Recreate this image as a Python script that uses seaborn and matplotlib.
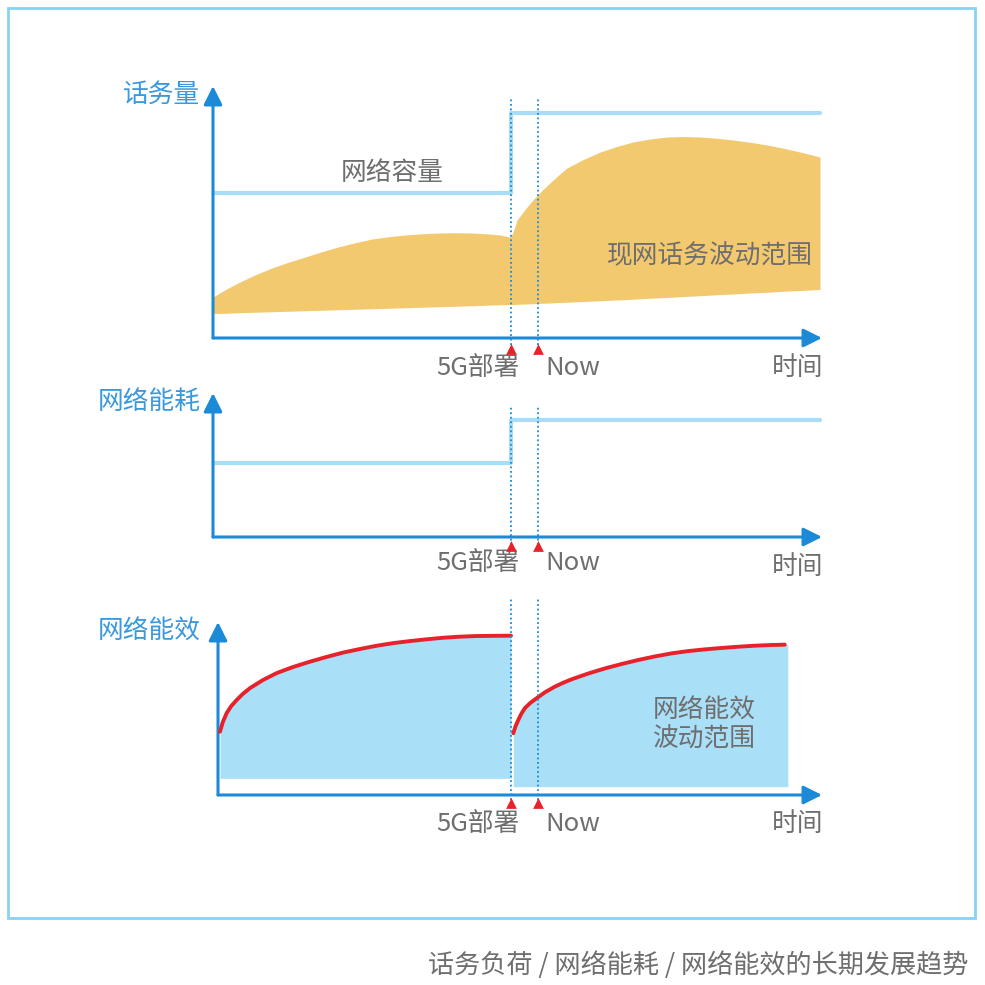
import numpy as np
import matplotlib.pyplot as plt
import seaborn as sns
from matplotlib.patches import Rectangle

sns.set_theme(style="white")
plt.rcParams['font.family'] = ['Noto Sans CJK SC', 'DejaVu Sans']

#
# Data (time in arbitrary units, 0..100)
#
t_5g = 49.1
t_now = 53.5

# panel 1: traffic volume
cap_t = [0, 49.1, 49.1, 100]
cap_v = [58, 58, 90, 90]
traffic_t = [0, 2.0, 4.1, 6.9, 9.7, 12.4, 15.2, 17.9, 20.6, 23.4, 26.2, 28.9, 31.6,
             34.4, 37.1, 39.9, 42.7, 45.0, 47.3, 48.9, 49.3, 49.7,
             50.1, 51.4, 52.7, 54.1, 55.5, 56.9, 58.3, 61.0, 63.8, 66.5, 69.2, 72.0,
             74.8, 77.5, 80.2, 83.0, 85.7, 88.5, 91.3, 94.0, 96.7, 100]
traffic_hi = [16.4, 19.3, 22, 25.2, 28, 30.3, 32.4, 34.5, 36.4, 38.1, 39.6, 40.5, 41.2,
              41.7, 42, 42.1, 42, 41.7, 41.2, 40.4, 41.6, 44.2,
              47.2, 51.4, 55.2, 58.8, 62, 65.1, 68, 71.4, 74.4, 76.6, 78.4, 79.6,
              80.4, 80.6, 80.4, 79.9, 79.2, 78.3, 77.2, 75.9, 74.4, 72.4]
traffic_lo = [9.8, 9.9, 10.1, 10.3, 10.5, 10.7, 10.9, 11.1, 11.3, 11.5, 11.7, 11.9, 12.1,
              12.3, 12.5, 12.7, 12.9, 13.1, 13.3, 13.4, 13.4, 13.4,
              13.5, 13.6, 13.7, 13.9, 14.0, 14.2, 14.3, 14.6, 14.9, 15.2, 15.5, 15.9,
              16.2, 16.6, 16.9, 17.3, 17.6, 18.0, 18.3, 18.7, 19.0, 19.4]

# panel 2: network energy consumption
energy_t = [0, 49.1, 49.1, 100]
energy_v = [51.4, 51.4, 81.3, 81.3]

# panel 3: network energy efficiency (two cycles)
eff1_t = [1.15, 1.6, 2.26, 3.0, 3.9, 4.9, 6.1, 8.2, 10.5, 13.2, 16.0, 18.7, 21.4,
          24.2, 27.0, 29.7, 32.5, 35.2, 37.9, 40.6, 43.4, 46.2, 49.1]
eff1_v = [36.6, 42.0, 47.4, 51.4, 54.9, 58.4, 61.8, 66.4, 70.5, 74.0, 77.1, 79.8, 82.3,
          84.4, 86.3, 87.8, 89.0, 90.0, 90.9, 91.5, 91.9, 92.0, 92.1]
eff1_lo = 9.65
eff2_t = [49.47, 49.85, 50.3, 50.8, 51.4, 52.3, 53.3, 54.7, 56.3, 57.7, 59.1, 61.8,
          64.6, 67.3, 70.0, 72.8, 75.6, 78.3, 81.1, 83.8, 86.5, 89.2, 92.0, 94.2]
eff2_v = [35.7, 39.8, 43.4, 47.0, 50.3, 53.3, 55.9, 59.4, 62.6, 64.9, 66.9, 70.2,
          73.2, 75.7, 78.0, 80.1, 81.9, 83.2, 84.2, 85.0, 85.7, 86.3, 86.7, 86.9]
eff2_lo = 4.8
eff2_end = 94.7

ylabels = ['话务量', '网络能耗', '网络能效']
ticklabels = ['5G部署', 'Now', '时间']

axis_blue = '#1c8ad6'
label_blue = '#3a98dc'
line_blue = '#a9dcf6'
fill_orange = '#f3c96f'
fill_blue = '#aadff8'
red = '#e8222b'
grey = '#6e6e6e'

W = H = 985.0
fig = plt.figure(figsize=(9.85, 9.85), dpi=100)


def add_panel(left, right, bottom, top, ymax):
    ax = fig.add_axes([left / W, 1 - bottom / H, (right - left) / W, (bottom - top) / H])
    ax.set_xlim((left - 213) / 6.07, (right - 213) / 6.07)
    ax.set_ylim(0, ymax)
    ax.axis('off')
    ax.patch.set_alpha(0)
    # axis arrows
    ax.annotate('', xy=(1, 0), xytext=(0, 0), xycoords='axes fraction',
                arrowprops=dict(arrowstyle='-|>', color=axis_blue, lw=2.2,
                                mutation_scale=28, shrinkA=0, shrinkB=0))
    ax.annotate('', xy=(0, 1), xytext=(0, 0), xycoords='axes fraction',
                arrowprops=dict(arrowstyle='-|>', color=axis_blue, lw=2.2,
                                mutation_scale=28, shrinkA=0, shrinkB=0))
    return ax


def markers(ax, ytop, ybot, ytri, ylab, ylab_t):
    for tx in (t_5g, t_now):
        ax.plot([tx, tx], [ybot, ytop], ls=(0, (1, 1.5)), color=axis_blue, lw=1.3,
                clip_on=False, zorder=4)
        ax.scatter([tx], [ytri], marker='^', s=60, color=red, clip_on=False, zorder=5,
                   linewidths=0)
    ax.text(t_5g + 1.4, ylab, ticklabels[0], ha='right', va='center', fontsize=18.5,
            color=grey)
    ax.text(t_now + 1.2, ylab, ticklabels[1], ha='left', va='center', fontsize=18.5,
            color=grey)
    ax.text(100.5, ylab_t, ticklabels[2], ha='right', va='center', fontsize=18.5,
            color=grey)


# frame around the figure
fig.patches.append(Rectangle((8 / W, 1 - 918 / H), 967 / W, 910 / H, transform=fig.transFigure,
                             fill=False, edgecolor='#86d3f3', lw=2))

# panel 1
ax1 = add_panel(213, 822, 338, 86, 252 / 2.5)
ax1.fill_between(traffic_t, traffic_lo, traffic_hi, color=fill_orange, lw=0, zorder=1)
sns.lineplot(x=cap_t, y=cap_v, ax=ax1, color=line_blue, lw=3, sort=False,
             estimator=None, zorder=2)
markers(ax1, 96.4, -2.8, -4.4, -12, -12)
ax1.text(-2.1, 97.2, ylabels[0], ha='right', va='center', fontsize=18.5, color=label_blue)
ax1.text(29.5, 66, '网络容量', ha='center', va='center', fontsize=18.5, color=grey)
ax1.text(98.8, 32.8, '现网话务波动范围', ha='right', va='center', fontsize=18.5, color=grey)

# panel 2
ax2 = add_panel(213, 822, 537, 393, 100)
sns.lineplot(x=energy_t, y=energy_v, ax=ax2, color=line_blue, lw=3, sort=False,
             estimator=None, zorder=2)
markers(ax2, 91.7, -5.5, -6.3, -18, -21)
ax2.text(-2.1, 93.7, ylabels[1], ha='right', va='center', fontsize=18.5, color=label_blue)

# panel 3
ax3 = add_panel(218, 822, 795, 622, 100)
ax3.fill_between(eff1_t, eff1_lo, eff1_v, color=fill_blue, lw=0, zorder=1)
ax3.fill_between(eff2_t + [eff2_end], eff2_lo, eff2_v + [eff2_v[-1]], color=fill_blue,
                 lw=0, zorder=1)
for xs, ys in ((eff1_t, eff1_v), (eff2_t, eff2_v)):
    sns.lineplot(x=xs, y=ys, ax=ax3, color=red, lw=2.8, sort=False, estimator=None,
                 zorder=3, solid_joinstyle='round', solid_capstyle='round')
markers(ax3, 114, -2.9, -4.6, -16.5, -16.5)
ax3.text(-2.1, 94.2, ylabels[2], ha='right', va='center', fontsize=18.5, color=label_blue)
ax3.text(81, 40.5, '网络能效\n波动范围', ha='center', va='center', fontsize=18.5,
         color=grey, linespacing=1.15)

# caption
fig.text(968 / W, 1 - 965 / H, '话务负荷 / 网络能耗 / 网络能效的长期发展趋势', ha='right',
         va='center', fontsize=18.8, color=grey)

fig.savefig('out.png', dpi=100)
